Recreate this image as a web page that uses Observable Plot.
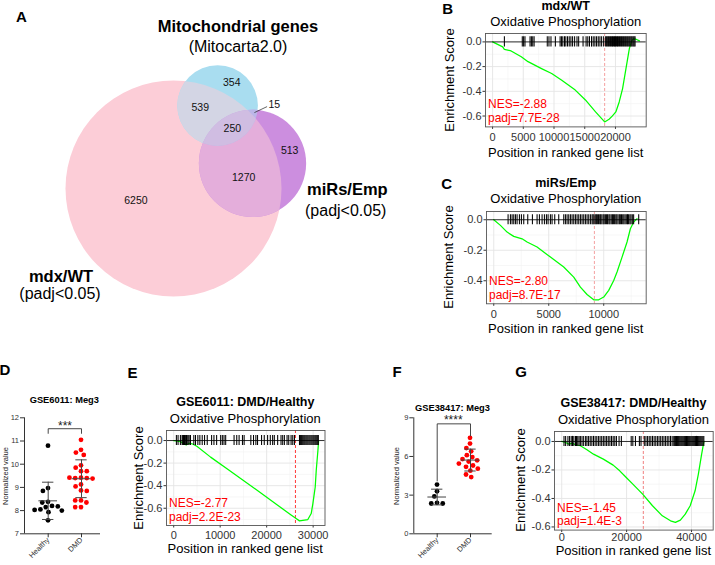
<!DOCTYPE html>
<html><head><meta charset="utf-8">
<script src="https://cdn.jsdelivr.net/npm/d3@7"></script>
<script src="https://cdn.jsdelivr.net/npm/@observablehq/plot@0.6"></script>
<style>
html,body{margin:0;padding:0;background:#fff;}
#fig{position:relative;width:715px;height:565px;overflow:hidden;font-family:"Liberation Sans",Arial,Helvetica,sans-serif;color:#000;background:#fff;}
.abs{position:absolute;}
.t{position:absolute;white-space:nowrap;line-height:1;}
</style></head><body><div id="fig"></div>
<script>
// ================= DATA =================
// Panel A – Venn diagram
const vennSetKeys = ["mdx", "mito", "mirs"];
const vennSetColors = ["#fccdd7", "#a9ddf0", "#cc8edf"];
const vennRegionKeys = ["mdx", "mito", "mirs", "mdx&mito", "mdx&mirs", "mito&mirs", "mdx&mito&mirs"];
const vennRegionCounts = [6250, 354, 513, 539, 1270, 15, 250];

// Panel B – mdx/WT
const gseaB_x = [0, 1650, 1920, 3020, 4670, 5770, 7970, 9620, 11260, 13460, 15110, 16760, 18240, 18960, 19510, 20060, 20610, 21160, 21710, 22260, 22640, 22915, 23350, 23900];
const gseaB_es = [0, -0.04, -0.06, -0.073, -0.12, -0.16, -0.216, -0.256, -0.31, -0.39, -0.47, -0.567, -0.648, -0.626, -0.599, -0.567, -0.486, -0.378, -0.216, -0.054, 0.008, 0.024, 0.022, 0.008];
const gseaB_hits = [1923, 4836, 5055, 5275, 6099, 6319, 6539, 6759, 8902, 9177, 9506, 10221, 10990, 11210, 11430, 11705, 11924, 12199, 12474, 12749, 13023, 13353, 13738, 14011, 14726, 15221, 15496, 15771, 16100, 16375, 16650, 16925, 17200, 17474, 17749, 18079, 18400, 18560, 18730, 18880, 19050, 19200, 19370, 19520, 19690, 19840, 20010, 20160, 20330, 20480, 20650, 20800, 20970, 21120, 21290, 21440, 21610, 21760, 21930, 22080, 22250, 22400, 22570, 22720, 22890, 23040, 23190];
const gseaB_lead = 18240;
const gseaB_stats = ["NES=-2.88", "padj=7.7E-28"];

// Panel C – miRs/Emp
const gseaC_x = [0, 606, 1212, 1818, 2576, 3030, 3939, 5151, 6363, 7272, 7878, 8484, 9090, 9545, 9999, 10454, 10908, 11211, 11666, 12120, 12423, 12726, 13029];
const gseaC_es = [0, -0.037, -0.081, -0.109, -0.125, -0.146, -0.179, -0.245, -0.31, -0.376, -0.442, -0.49, -0.525, -0.525, -0.507, -0.463, -0.398, -0.343, -0.245, -0.146, -0.059, -0.015, 0.007];
const gseaC_hits = [1303, 1515, 1667, 1818, 1970, 2121, 2333, 2515, 2727, 3091, 3515, 3939, 4151, 4394, 4606, 4788, 4939, 5151, 5303, 5545, 5909, 6364, 6515, 6667, 6818, 6970, 7121, 7273, 7424, 7576, 7727, 7879, 8030, 8182, 8333, 8485, 8636, 8788, 8939, 9030, 9120, 9230, 9330, 9420, 9530, 9640, 9720, 9830, 9950, 10040, 10150, 10260, 10350, 10470, 10560, 10680, 10790, 10880, 10990, 11100, 11190, 11300, 11420, 11510, 11620, 11730, 11830, 11940, 12050, 12160, 12260, 12380, 12480, 12600, 12720, 13180];
const gseaC_lead = 9150;
const gseaC_stats = ["NES=-2.80", "padj=8.7E-17"];

// Panel E – GSE6011
const gseaE_x = [0, 577, 1443, 2165, 2742, 3319, 3968, 5051, 7937, 11544, 15152, 18759, 22367, 25253, 26335, 27056, 28860, 29582, 29942, 30447, 30664, 31025, 31169];
const gseaE_es = [0, -0.003, -0.009, -0.029, -0.038, -0.024, -0.029, -0.053, -0.147, -0.253, -0.359, -0.465, -0.574, -0.659, -0.691, -0.712, -0.7, -0.647, -0.559, -0.412, -0.265, -0.088, -0.006];
const gseaE_hits = [577, 938, 1443, 1804, 1950, 2092, 2200, 2309, 2450, 2597, 2750, 2886, 3102, 3319, 3608, 4329, 4690, 5195, 5628, 6133, 6638, 7215, 8153, 8658, 9235, 10101, 10462, 10823, 11183, 12987, 13564, 14069, 14791, 15152, 16595, 17172, 17677, 18038, 18903, 19481, 20202, 20779, 21284, 21645, 22367, 23088, 23449, 23810, 24387, 24747, 25253, 25613, 25974, 27060, 27300, 27520, 27750, 27980, 28200, 28430, 28650, 28870, 29100, 29320, 29550, 29770, 30000, 30220, 30450, 30670, 30900, 31120];
const gseaE_lead = 26190;
const gseaE_stats = ["NES=-2.77", "padj=2.2E-23"];

// Panel G – GSE38417
const gseaG_x = [0, 1212, 2222, 3232, 4242, 5757, 7777, 9797, 12827, 15857, 17877, 19897, 21917, 24947, 27977, 31007, 33532, 35047, 36562, 38077, 39592, 41107, 42117, 43127, 43834];
const gseaG_es = [0, -0.007, -0.019, -0.012, -0.023, -0.03, -0.058, -0.089, -0.124, -0.166, -0.206, -0.253, -0.299, -0.37, -0.451, -0.522, -0.557, -0.568, -0.552, -0.51, -0.451, -0.346, -0.229, -0.089, 0];
const gseaG_hits = [707, 1212, 1919, 2424, 2929, 3333, 3737, 4242, 4545, 4949, 5353, 5757, 6262, 6767, 7373, 7777, 8282, 8787, 9292, 9797, 10302, 10807, 11312, 11817, 12322, 12827, 13332, 13837, 14342, 14847, 15352, 15857, 16362, 16867, 17675, 18382, 21412, 21917, 22725, 23937, 24442, 25452, 25957, 26462, 26967, 27472, 27977, 28482, 28987, 29492, 29997, 30502, 31007, 31512, 32017, 32522, 33027, 33532, 34037, 34540, 34820, 35100, 35390, 35660, 35950, 36220, 36500, 36790, 37060, 37340, 37630, 37900, 38180, 38470, 38740, 39020, 39310, 39580, 39860, 40150, 40420, 40700, 40990, 41260, 41540, 41830, 42100, 42380, 42670, 42940, 43220, 43510, 43800];
const gseaG_lead = 25150;
const gseaG_stats = ["NES=-1.45", "padj=1.4E-3"];

// GSEA tick labels
const ticksB_x = [0, 5000, 10000, 15000, 20000];
const ticksC_x = [0, 5000, 10000];
const ticksE_x = [0, 10000, 20000, 30000];
const ticksG_x = [0, 20000, 40000];
const ticksB_y = [0, -0.2, -0.4, -0.6];
const ticksC_y = [0, -0.2, -0.4];
const ticksE_y = [0, -0.2, -0.4, -0.6];
const ticksG_y = [0, -0.2, -0.4, -0.6];

// Panels D and F – Meg3 scatter
const prismGroups = ["Healthy", "DMD"];
const prismColors = ["#000000", "#ff0000"];
const gse6011Healthy = [10.8, 8.97, 8.85, 8.38, 8.35, 8.2, 8.18, 8.15, 8.05, 8.03, 8.0, 7.93, 7.58];
const gse6011DMD = [11.05, 10.62, 10.5, 10.4, 9.95, 9.85, 9.7, 9.7, 9.42, 9.4, 9.4, 9.38, 9.42, 9.13, 9.04, 8.87, 8.85, 8.44, 8.44, 8.35, 8.15, 8.15];
const gse6011Ticks = [7, 8, 9, 10, 11, 12];
const gse6011Bracket = [11.33, 11.53, 11.53, 11.33];
const gse38417Healthy = [3.82, 3.3, 2.9, 2.4, 2.35, 2.35];
const gse38417DMD = [7.45, 7.0, 6.65, 6.4, 6.1, 5.95, 5.8, 5.7, 5.6, 5.45, 5.3, 5.2, 5.05, 4.9, 4.6, 4.4];
const gse38417Ticks = [0, 3, 6, 9];
const gse38417Bracket = [4.1, 8.53, 8.53, 7.6];

// ================= HELPERS =================
const FONT = '"Liberation Sans", Arial, Helvetica, sans-serif';
const fig = document.getElementById("fig");
function place(node, x, y) {
  const w = document.createElement("div");
  w.className = "abs";
  w.style.left = x + "px"; w.style.top = y + "px";
  fig.appendChild(w); w.appendChild(node);
  return w;
}
function txt(s, x, y, o = {}) {
  const {size = 13, weight = "normal", anchor = "middle", rotate = 0, color = "#000"} = o;
  const el = document.createElement("div");
  el.className = "t"; el.textContent = s;
  el.style.left = x + "px"; el.style.top = y + "px";
  el.style.fontSize = size + "px"; el.style.fontWeight = weight; el.style.color = color;
  const tx = anchor === "start" ? "0" : anchor === "end" ? "-100%" : "-50%";
  el.style.transform = `translate(${tx},-50%)` + (rotate ? ` rotate(${rotate}deg)` : "");
  fig.appendChild(el);
}
const baseStyle = (size, color) => ({fontFamily: FONT, fontSize: size + "px", color, background: "transparent", overflow: "visible", maxWidth: "none"});

// ================= PANEL A: VENN =================
(function () {
  const inSet = (key, s) => key.split("&").includes(s);
  const totals = vennSetKeys.map(s => d3.sum(vennRegionKeys, (k, i) => inSet(k, s) ? vennRegionCounts[i] : 0));
  const pairCount = (a, b) => d3.sum(vennRegionKeys, (k, i) => inSet(k, a) && inSet(k, b) ? vennRegionCounts[i] : 0);
  const rad = totals.map(t => Math.sqrt(t / Math.PI));
  const lens = (r1, r2, d) => {
    if (d >= r1 + r2) return 0;
    if (d <= Math.abs(r1 - r2)) return Math.PI * Math.min(r1, r2) ** 2;
    const a1 = Math.acos((d * d + r1 * r1 - r2 * r2) / (2 * d * r1));
    const a2 = Math.acos((d * d + r2 * r2 - r1 * r1) / (2 * d * r2));
    return r1 * r1 * a1 + r2 * r2 * a2 - 0.5 * Math.sqrt((-d + r1 + r2) * (d + r1 - r2) * (d - r1 + r2) * (d + r1 + r2));
  };
  const solve = (r1, r2, A) => {
    let lo = Math.abs(r1 - r2), hi = r1 + r2;
    for (let it = 0; it < 80; it++) { const m = (lo + hi) / 2; if (lens(r1, r2, m) > A) lo = m; else hi = m; }
    return (lo + hi) / 2;
  };
  const d01 = solve(rad[0], rad[1], pairCount("mdx", "mito"));
  const d02 = solve(rad[0], rad[2], pairCount("mdx", "mirs"));
  const d12 = solve(rad[1], rad[2], pairCount("mito", "mirs"));
  const theta = 62 * Math.PI / 180;
  const phi = Math.acos((d01 * d01 + d02 * d02 - d12 * d12) / (2 * d01 * d02));
  const centres = [[0, 0], [d01 * Math.cos(theta), d01 * Math.sin(theta)], [d02 * Math.cos(theta - phi), d02 * Math.sin(theta - phi)]];
  const circles = vennSetKeys.map((key, i) => ({key, cx: centres[i][0], cy: centres[i][1], total: totals[i], rr: rad[i]}));

  const W = 330, H = 320, R0 = 108, ox = 173, oy = 188;
  const k = R0 / rad[0];
  const xDom = [-ox / k, (W - ox) / k], yDom = [-(H - oy) / k, oy / k];

  const labels = vennRegionKeys.map((key, idx) => {
    const member = vennSetKeys.map(s => inSet(key, s));
    let best = [0, 0], bestD = -Infinity;
    const st = 0.3;
    for (let x = xDom[0]; x <= xDom[1]; x += st) for (let y = yDom[0]; y <= yDom[1]; y += st) {
      let ok = true, md = Infinity;
      for (let i = 0; i < 3; i++) {
        const c = circles[i]; const dist = Math.hypot(x - c.cx, y - c.cy);
        if ((dist < c.rr) !== member[i]) { ok = false; break; }
        md = Math.min(md, Math.abs(dist - c.rr));
      }
      if (ok && md > bestD) { bestD = md; best = [x, y]; }
    }
    return {key, count: vennRegionCounts[idx], x: best[0], y: best[1], inner: bestD * k};
  });
  const big = labels.filter(d => d.inner >= 5), tiny = labels.filter(d => d.inner < 5);
  const avg = idx => {
    const cs = idx.map(i => d3.rgb(vennSetColors[i]));
    return d3.rgb(d3.mean(cs, c => c.r), d3.mean(cs, c => c.g), d3.mean(cs, c => c.b)).formatHex();
  };
  const dotOpts = {x: "cx", y: "cy", r: "total"};
  const pairs = [[0, 1], [0, 2], [1, 2]];
  const svg = Plot.plot({
    width: W, height: H, margin: 0,
    style: baseStyle(10.5, "#111"),
    x: {domain: xDom, axis: null}, y: {domain: yDom, axis: null},
    r: {type: "sqrt", domain: [0, totals[0]], range: [0, R0]},
    marks: [
      ...circles.map((c, i) => Plot.dot([c], {...dotOpts, fill: vennSetColors[i]})),
      ...pairs.map(([i, j]) => Plot.dot([circles[i]], {...dotOpts, fill: avg([i, j])})),
      Plot.dot([circles[0]], {...dotOpts, fill: avg([0, 1, 2])}),
      Plot.text(big, {x: "x", y: "y", text: d => String(d.count), fontSize: 10.5, fill: "#111"}),
      Plot.link(tiny, {x1: "x", y1: "y", x2: d => d.x + 12.7 / k, y2: d => d.y + 6 / k, stroke: "#222", strokeWidth: 0.7}),
      Plot.text(tiny, {x: d => d.x + 14 / k, y: d => d.y + 8.4 / k, text: d => String(d.count), textAnchor: "start", fontSize: 10.5, fill: "#111"})
    ]
  });
  try {
    const NS = "http://www.w3.org/2000/svg";
    // the 7 dot groups, in mark order: 3 sets, 3 pairs, 1 triple
    const groups = Array.from(svg.querySelectorAll("g")).filter(g => g.querySelector(":scope > circle"));
    const defs = document.createElementNS(NS, "defs");
    svg.insertBefore(defs, svg.firstChild);
    vennSetKeys.forEach((key, i) => {
      const c = groups[i].querySelector("circle");
      const cp = document.createElementNS(NS, "clipPath");
      cp.setAttribute("id", "venn-clip-" + key);
      const cc = c.cloneNode(false);
      if (groups[i].getAttribute("transform")) cc.setAttribute("transform", groups[i].getAttribute("transform"));
      cp.appendChild(cc);
      defs.appendChild(cp);
    });
    const clipWrap = (g, key) => {
      const w = document.createElementNS(NS, "g");
      w.setAttribute("clip-path", `url(#venn-clip-${key})`);
      g.parentNode.insertBefore(w, g);
      w.appendChild(g);
      return w;
    };
    pairs.forEach(([i, j], n) => clipWrap(groups[3 + n], vennSetKeys[j]));
    const inner = clipWrap(groups[6], vennSetKeys[2]);
    clipWrap(inner, vennSetKeys[1]);
  } catch (e) { console.error(e); }
  place(svg, 0, 0);
})();

// ================= GSEA PANELS =================
function minorOf(ticks, domain) {
  const step = ticks[1] - ticks[0];
  const lo = Math.min(...domain), hi = Math.max(...domain);
  const out = [];
  for (let i = -1; i < ticks.length; i++) {
    const v = i < 0 ? ticks[0] - step / 2 : ticks[i] + step / 2;
    if (v > lo && v < hi) out.push(v);
  }
  return out;
}
function gsea(cfg) {
  const {frame: [L, R, T, B], xDomain, yDomain, xTicks, yTicks, xs, es, hits, lead, stats, dash, xPad} = cfg;
  const ml = 40, mt = 3, mr = 4, mb = 22;
  const width = R - L + ml + mr, height = B - T + mt + mb;
  const curve = xs.map((x, i) => ({x, y: es[i]}));
  const half = (Math.max(0, d3.max(es)) - Math.min(0, d3.min(es))) / 8 / 2;
  const svg = Plot.plot({
    width, height, marginLeft: ml, marginTop: mt, marginRight: mr, marginBottom: mb,
    style: baseStyle(11, "#333"),
    x: {domain: xDomain, ticks: xTicks, tickFormat: d => String(d), tickSize: 2.5, tickPadding: xPad, label: null},
    y: {domain: yDomain, ticks: yTicks, tickFormat: d => d.toFixed(1), tickSize: 2.5, tickPadding: 1.5, label: null},
    marks: [
      Plot.ruleX(minorOf(xTicks, xDomain), {stroke: "#f1f1f1", strokeWidth: 0.6}),
      Plot.ruleY(minorOf(yTicks, yDomain), {stroke: "#f1f1f1", strokeWidth: 0.6}),
      Plot.ruleX(xTicks, {stroke: "#e4e4e4", strokeWidth: 0.9}),
      Plot.ruleY(yTicks, {stroke: "#e4e4e4", strokeWidth: 0.9}),
      Plot.ruleX([lead], {stroke: dash, strokeWidth: 1, strokeDasharray: "3,2"}),
      Plot.line(curve, {x: "x", y: "y", stroke: "#00ff00", strokeWidth: 1.25}),
      Plot.ruleY([0], {stroke: "#000", strokeWidth: 0.8}),
      Plot.ruleX(hits, {y1: () => -half, y2: () => half, stroke: "#000", strokeWidth: 1.05}),
      Plot.text([stats.join("\n")], {frameAnchor: "bottom-left", textAnchor: "start", lineAnchor: "bottom", dx: 2.5, dy: -5, fill: "#ff0000", fontSize: 12, lineHeight: 1.12}),
      Plot.frame({stroke: "#555", strokeWidth: 0.9})
    ]
  });
  place(svg, L - ml, T - mt);
}
gsea({frame: [485, 645.7, 33.3, 126.7], xDomain: [-1150, 25000], yDomain: [-0.688, 0.068], xTicks: ticksB_x, yTicks: ticksB_y, xs: gseaB_x, es: gseaB_es, hits: gseaB_hits, lead: gseaB_lead, stats: gseaB_stats, dash: "#f4a0a0", xPad: 3.5});
gsea({frame: [486, 645.7, 211, 303.3], xDomain: [-660, 13860], yDomain: [-0.551, 0.054], xTicks: ticksC_x, yTicks: ticksC_y, xs: gseaC_x, es: gseaC_es, hits: gseaC_hits, lead: gseaC_lead, stats: gseaC_stats, dash: "#f4a0a0", xPad: 3.5});
gsea({frame: [166, 324.5, 430, 525], xDomain: [-1550, 32550], yDomain: [-0.753, 0.089], xTicks: ticksE_x, yTicks: ticksE_y, xs: gseaE_x, es: gseaE_es, hits: gseaE_hits, lead: gseaE_lead, stats: gseaE_stats, dash: "#ff3b3b", xPad: 3});
gsea({frame: [554, 712.7, 430.7, 529.3], xDomain: [-2220, 46680], yDomain: [-0.622, 0.07], xTicks: ticksG_x, yTicks: ticksG_y, xs: gseaG_x, es: gseaG_es, hits: gseaG_hits, lead: gseaG_lead, stats: gseaG_stats, dash: "#f08080", xPad: 0.5});

// ================= PRISM PANELS (D, F) =================
function prism(cfg) {
  const {left, top, width, height, frame: [fL, fR, fT, fB], cH, cD, yDomain, yTicks, healthy, dmd, bracket} = cfg;
  const ml = fL - left, mr = left + width - fR, mt = fT - top, mb = top + height - fB;
  const W = fR - fL, step = cD - cH, c1 = cH - fL, p = 0.3;
  const o = (W / step - (2 - p)) / 2, a = (c1 - step * (1 - p) / 2) / (W - step * (2 - p));
  const xDom = [-c1 / step, (W - c1) / step];
  const pts = [
    ...healthy.map(v => ({group: prismGroups[0], value: v, color: prismColors[0]})),
    ...dmd.map(v => ({group: prismGroups[1], value: v, color: prismColors[1]}))
  ];
  const stats = [healthy, dmd].map((vs, i) => { const m = d3.mean(vs), s = d3.deviation(vs); return {i, mean: m, lo: m - s, hi: m + s}; });
  const common = {width, height, marginLeft: ml, marginRight: mr, marginTop: mt, marginBottom: mb, style: baseStyle(7.5, "#333")};
  const dots = Plot.plot({
    ...common,
    facet: {data: pts, x: "group"},
    fx: {domain: prismGroups, paddingInner: p, paddingOuter: o, align: a, axis: null, label: null},
    y: {domain: yDomain, axis: null},
    color: {type: "identity"},
    marks: [Plot.dot(pts, Plot.dodgeX("middle", {y: "value", fill: "color", r: 2.4, padding: 0.4}))]
  });
  const bpts = [0, 0, 1, 1].map((x, i) => ({x, y: bracket[i]}));
  const axes = Plot.plot({
    ...common,
    x: {domain: xDom, ticks: [0, 1], tickFormat: i => prismGroups[i], tickRotate: -45, tickSize: 4, tickPadding: 1, label: null},
    y: {domain: yDomain, ticks: yTicks, tickFormat: d => String(d), tickSize: 4, tickPadding: 1.5, label: null},
    marks: [
      Plot.ruleY([yDomain[0]], {stroke: "#333", strokeWidth: 1}),
      Plot.ruleX([xDom[0]], {stroke: "#333", strokeWidth: 1}),
      Plot.ruleY(stats, {y: "mean", x1: d => d.i - 0.28, x2: d => d.i + 0.28, stroke: "#444", strokeWidth: 1}),
      Plot.ruleX(stats, {x: "i", y1: "lo", y2: "hi", stroke: "#444", strokeWidth: 1}),
      Plot.ruleY(stats, {y: "lo", x1: d => d.i - 0.17, x2: d => d.i + 0.17, stroke: "#444", strokeWidth: 1}),
      Plot.ruleY(stats, {y: "hi", x1: d => d.i - 0.17, x2: d => d.i + 0.17, stroke: "#444", strokeWidth: 1}),
      Plot.line(bpts, {x: "x", y: "y", stroke: "#333", strokeWidth: 0.9})
    ]
  });
  place(dots, left, top);
  place(axes, left, top);
}
prism({left: 0, top: 395, width: 110, height: 170, frame: [24, 100, 417.3, 533.3], cH: 47.7, cD: 81, yDomain: [7, 12], yTicks: gse6011Ticks, healthy: gse6011Healthy, dmd: gse6011DMD, bracket: gse6011Bracket});
prism({left: 389, top: 395, width: 110, height: 170, frame: [413.3, 491.7, 417.3, 533.3], cH: 436.7, cD: 470, yDomain: [0, 9], yTicks: gse38417Ticks, healthy: gse38417Healthy, dmd: gse38417DMD, bracket: gse38417Bracket});

// ================= TEXT =================
[["A", 21.3, 16.2], ["B", 447.7, 8.3], ["C", 446.7, 183.3], ["D", 5, 369], ["E", 132.5, 371.7], ["F", 397, 370.5], ["G", 521, 370.5]]
  .forEach(([s, x, y]) => txt(s, x, y, {size: 15, weight: "bold"}));
txt("Mitochondrial genes", 238, 26, {size: 16.5, weight: "bold"});
txt("(Mitocarta2.0)", 238, 46.5, {size: 16});
txt("mdx/WT", 61, 275.5, {size: 16.5, weight: "bold"});
txt("(padj<0.05)", 60, 294, {size: 16});
txt("miRs/Emp", 307, 189.2, {size: 16.5, weight: "bold", anchor: "start"});
txt("(padj<0.05)", 305, 210.8, {size: 16, anchor: "start"});
const gseaText = [
  ["mdx/WT", 565.7, 6.2, 21.3, 449.3, 80, 151.5],
  ["miRs/Emp", 565.8, 182.7, 198, 448.3, 257, 327.5],
  ["GSE6011: DMD/Healthy", 245.3, 402, 418.3, 138.3, 477.5, 548.3],
  ["GSE38417: DMD/Healthy", 633.4, 402.5, 418.5, 520, 480, 550]
];
gseaText.forEach(([t, cx, ty, sy, yx, yy, xy]) => {
  txt(t, cx, ty, {size: 12.5, weight: "bold"});
  txt("Oxidative Phosphorylation", cx, sy, {size: 13});
  txt("Enrichment Score", yx, yy, {size: 13, rotate: -90});
  txt("Position in ranked gene list", cx, xy, {size: 13});
});
txt("GSE6011: Meg3", 64.3, 401.2, {size: 9.3, weight: "bold"});
txt("GSE38417: Meg3", 452.5, 409.3, {size: 9.3, weight: "bold"});
txt("Normalized value", 6, 475.8, {size: 7.5, rotate: -90, color: "#222"});
txt("Normalized value", 396.7, 475.8, {size: 7.5, rotate: -90, color: "#222"});
txt("***", 65, 425.7, {size: 12, color: "#222"});
txt("****", 453.3, 420, {size: 12, color: "#222"});
</script></body></html>
